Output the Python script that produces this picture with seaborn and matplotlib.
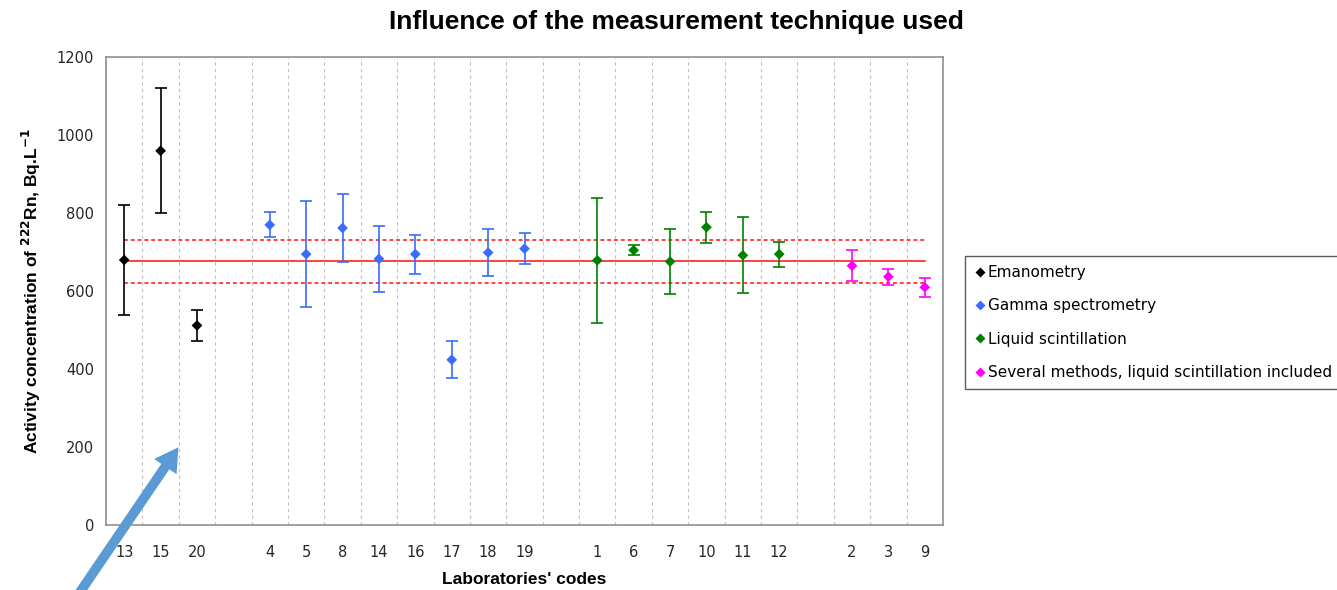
import matplotlib
matplotlib.use('Agg')
import matplotlib.pyplot as plt
import numpy as np
import pandas as pd
import seaborn as sns

# x slots, '' = empty gap between groups
slots = ['13', '15', '20', '', '4', '5', '8', '14', '16', '17', '18', '19', '',
         '1', '6', '7', '10', '11', '12', '', '2', '3', '9']

labs = ['13', '15', '20',
        '4', '5', '8', '14', '16', '17', '18', '19',
        '1', '6', '7', '10', '11', '12',
        '2', '3', '9']
values = [680, 960, 512,
          770, 695, 762, 683, 695, 424, 699, 709,
          679, 705, 676, 764, 692, 695,
          665, 637, 610]
uncert = [140, 160, 40,
          32, 135, 86, 85, 50, 47, 60, 40,
          160, 13, 84, 40, 97, 32,
          40, 20, 25]
method = (['Emanometry'] * 3 + ['Gamma spectrometry'] * 8 +
          ['Liquid scintillation'] * 6 +
          ['Several methods, liquid scintillation included'] * 3)

ref_value = 677
ref_low = 622
ref_high = 731

colors = {'Emanometry': '#000000',
          'Gamma spectrometry': '#3a6cff',
          'Liquid scintillation': '#008000',
          'Several methods, liquid scintillation included': '#ff00ff'}

df = pd.DataFrame({'lab': labs, 'value': values, 'u': uncert, 'method': method})
df['x'] = [slots.index(l) for l in df['lab']]

sns.set_style('white')
plt.rcParams['font.family'] = ['DejaVu Sans']
plt.rcParams['text.color'] = 'black'

fig = plt.figure(figsize=(13.37, 5.9), dpi=100)
ax = fig.add_axes([0.0793, 0.110, 0.626, 0.793])

# reference value and limits
xr = [df['x'].min(), df['x'].max()]
ax.plot(xr, [ref_value] * 2, color='#ff4040', lw=1.4, zorder=2)
ax.plot(xr, [ref_low] * 2, color='#ff4040', lw=1.4, ls=(0, (2, 1.5)), zorder=2)
ax.plot(xr, [ref_high] * 2, color='#ff4040', lw=1.4, ls=(0, (2, 1.5)), zorder=2)

for m, g in df.groupby('method', sort=False):
    ax.errorbar(g['x'], g['value'], yerr=g['u'], fmt='none', ecolor=colors[m],
                elinewidth=1.2, capsize=4, capthick=1.2, zorder=3)

sns.scatterplot(data=df, x='x', y='value', hue='method', palette=colors,
                marker='D', s=30, edgecolor='none', ax=ax, zorder=4)

ax.set_xlim(-0.5, len(slots) - 0.5)
ax.set_ylim(0, 1200)
ax.set_yticks(np.arange(0, 1201, 200))
ax.set_xticks(np.arange(-0.5, len(slots), 1.0))
ax.set_xticklabels([])
ax.set_xticks(np.arange(len(slots)), minor=True)
ax.set_xticklabels(slots, minor=True)
ax.tick_params(axis='x', which='minor', length=0, pad=14, labelsize=10.5)
ax.tick_params(axis='x', which='major', length=5, color='#888888', direction='out')
ax.tick_params(axis='y', length=5, color='#888888', direction='out', labelsize=10.5)
ax.xaxis.grid(True, which='major', color='#c0c0c0', ls=(0, (3, 3)), lw=0.8)
ax.set_axisbelow(True)
for s in ax.spines.values():
    s.set_color('#909090')
    s.set_linewidth(1.2)

ax.set_xlabel("Laboratories' codes", fontsize=12.5, fontweight='bold',
              family='Liberation Sans', labelpad=9, color='black')
ax.set_ylabel(r"Activity concentration of $^{\mathbf{222}}$Rn, Bq.L$^{\mathbf{-1}}$",
              fontsize=12.5, fontweight='bold', family='Liberation Sans', labelpad=10,
              color='black')
fig.suptitle('Influence of the measurement technique used', x=0.506, y=0.983,
             fontsize=19, fontweight='bold', family='Liberation Sans', color='black')

handles, leg_labels = ax.get_legend_handles_labels()
leg = ax.legend(handles, leg_labels, loc='upper left', bbox_to_anchor=(1.017, 0.592),
                frameon=True, fancybox=False, edgecolor='#333333', fontsize=11,
                labelspacing=1.2, handletextpad=0.1, handlelength=0.8,
                borderpad=0.6, markerscale=0.9)
leg.get_frame().set_linewidth(1.0)

# blue arrow drawn on the picture
fig.patches.append(matplotlib.patches.FancyArrowPatch(
    (78 / 1337, 1 - 595 / 590), (180 / 1337, 1 - 445 / 590),
    transform=fig.transFigure,
    arrowstyle='simple,tail_width=0.5,head_width=1.4,head_length=1.2',
    mutation_scale=14, color='#5b9bd5', lw=0))

fig.savefig('out.png', dpi=100)
